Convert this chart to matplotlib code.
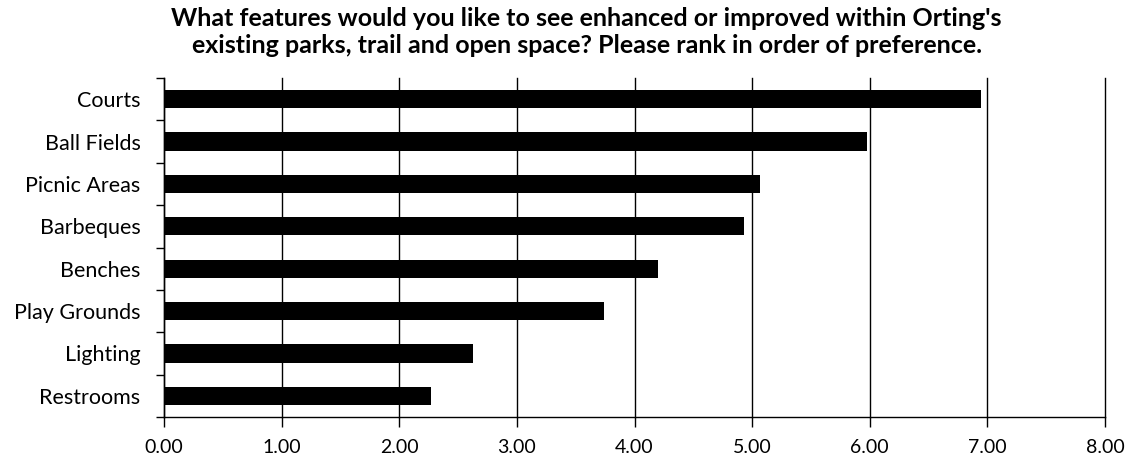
import numpy as np
import matplotlib.pyplot as plt

plt.rcParams['font.family'] = ['Lato', 'DejaVu Sans']

# average ranking score per park feature
features = ["Courts", "Ball Fields", "Picnic Areas", "Barbeques",
            "Benches", "Play Grounds", "Lighting", "Restrooms"]
scores = [6.95, 5.98, 5.07, 4.93, 4.20, 3.74, 2.63, 2.27]
x_ticks = [0, 1, 2, 3, 4, 5, 6, 7, 8]
x_tick_labels = ["%.2f" % v for v in x_ticks]

fig = plt.figure(figsize=(11.39, 4.63), dpi=100)
ax = fig.add_axes([164 / 1139, 1 - 417 / 463, (1105 - 164) / 1139, (417 - 78) / 463])

y = np.arange(len(features))[::-1]
ax.barh(y, scores, height=0.43, color="black", zorder=3)

ax.set_xlim(0, 8)
ax.set_ylim(-0.5, len(features) - 0.5)
ax.set_xticks(x_ticks)
ax.set_xticklabels(x_tick_labels, fontsize=14)
ax.set_yticks(y)
ax.set_yticklabels(features, fontsize=15.5)

# tick marks sit between categories on the value axis
ax.set_yticks(np.arange(-0.5, len(features)), minor=True)
ax.tick_params(axis="y", which="major", length=0, pad=17)
ax.tick_params(axis="y", which="minor", length=6, width=1, direction="out")
ax.tick_params(axis="x", which="major", length=7, width=1, direction="out", pad=9)

ax.xaxis.grid(True, color="black", linewidth=1, zorder=0)
for gl in ax.get_xgridlines():
    gl.set_clip_on(False)
for side in ["top", "right"]:
    ax.spines[side].set_visible(False)
for side in ["left", "bottom"]:
    ax.spines[side].set_linewidth(1)
    ax.spines[side].set_color("black")

fig.text(0.515, 0.985, "What features would you like to see enhanced or improved within Orting's\n"
         "existing parks, trail and open space? Please rank in order of preference.",
         ha="center", va="top", fontsize=18, fontweight="bold", linespacing=1.2)

fig.savefig("out.png", dpi=100)
